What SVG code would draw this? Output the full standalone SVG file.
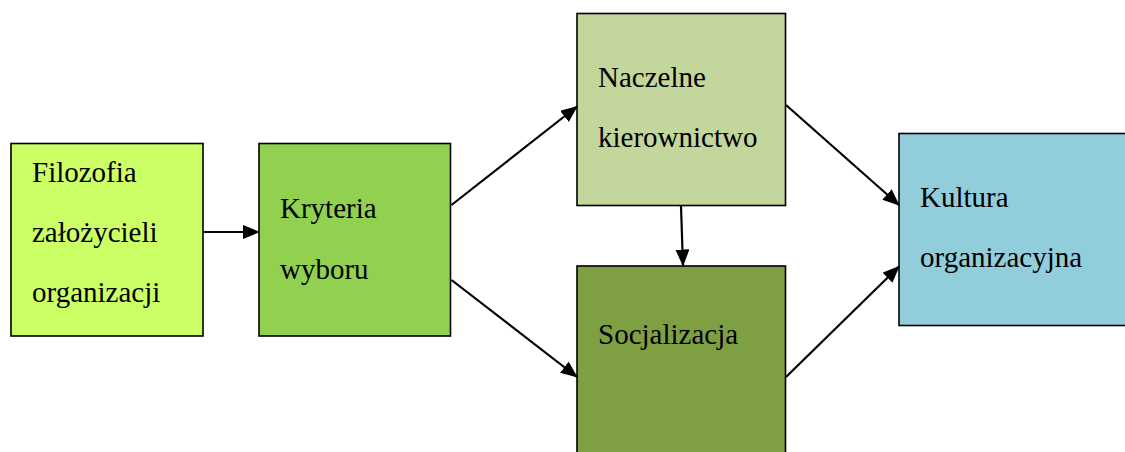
<svg xmlns="http://www.w3.org/2000/svg" width="1125" height="452" viewBox="0 0 1125 452">
<style>
.box{stroke:#000;stroke-width:1.6}
.t{font-family:"Liberation Serif","Times New Roman",serif;font-size:29px;fill:#000}
.c{stroke:#000;stroke-width:2.2;fill:none;marker-end:url(#ah)}
</style>
<defs>
<marker id="ah" markerUnits="userSpaceOnUse" markerWidth="17" markerHeight="14" refX="16" refY="7" orient="auto">
<path d="M0,0 L17,7 L0,14 z" fill="#000"/>
</marker>
</defs>
<rect width="1125" height="452" fill="#fff"/>
<g id="filozofia">
<rect class="box" x="11" y="143.5" width="192" height="192.5" fill="#CCFF66"/>
<text class="t" x="32" y="182">Filozofia</text>
<text class="t" x="32" y="242">założycieli</text>
<text class="t" x="32" y="302">organizacji</text>
</g>
<g id="kryteria">
<rect class="box" x="259" y="143.5" width="191.5" height="192.5" fill="#92D050"/>
<text class="t" x="280" y="218">Kryteria</text>
<text class="t" x="280" y="279">wyboru</text>
</g>
<g id="naczelne">
<rect class="box" x="577" y="13.5" width="208.5" height="192" fill="#C3D69B"/>
<text class="t" x="598" y="87">Naczelne</text>
<text class="t" x="598" y="147">kierownictwo</text>
</g>
<g id="socjalizacja">
<rect class="box" x="577" y="266" width="208.5" height="200" fill="#7F9F43"/>
<text class="t" x="598" y="344">Socjalizacja</text>
</g>
<g id="kultura">
<rect class="box" x="899" y="133.5" width="240" height="192" fill="#92CDDC"/>
<text class="t" x="920" y="207">Kultura</text>
<text class="t" x="920" y="267">organizacyjna</text>
</g>
<g id="connectors">
<line class="c" x1="203" y1="232" x2="259" y2="232"/>
<line class="c" x1="451.5" y1="205" x2="577" y2="106.5"/>
<line class="c" x1="451.5" y1="280" x2="577" y2="377"/>
<line class="c" x1="681" y1="206" x2="683" y2="265.5"/>
<line class="c" x1="786" y1="105" x2="899" y2="205"/>
<line class="c" x1="786" y1="377" x2="899" y2="266.5"/>
</g>
</svg>
